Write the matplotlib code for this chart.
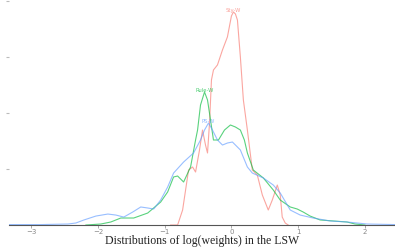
import matplotlib
matplotlib.use("Agg")
import matplotlib.pyplot as plt

# values (x = log weight, y = density)
sty_x = [-0.91, -0.806, -0.731, -0.642, -0.582, -0.537, -0.478, -0.433, -0.388, -0.358,
         -0.328, -0.299, -0.269, -0.209, -0.134, -0.060, 0.0, 0.030, 0.060, 0.090,
         0.134, 0.179, 0.239, 0.313, 0.388, 0.463, 0.552, 0.612, 0.687, 0.731,
         0.761, 0.806, 0.851]
sty_y = [0.0, 0.0, 0.134, 0.491, 0.518, 0.473, 0.67, 0.848, 0.714, 0.643,
         0.911, 1.295, 1.384, 1.429, 1.563, 1.679, 1.866, 1.902, 1.884, 1.830,
         1.5, 1.116, 0.848, 0.491, 0.446, 0.268, 0.134, 0.223, 0.357, 0.268,
         0.071, 0.018, 0.0]

rule_x = [-2.18, -1.955, -1.806, -1.657, -1.463, -1.254, -1.060, -0.955, -0.866, -0.806,
          -0.716, -0.612, -0.537, -0.507, -0.463, -0.403, -0.358, -0.313, -0.269, -0.194,
          -0.104, -0.015, 0.060, 0.134, 0.194, 0.239, 0.328, 0.478, 0.627, 0.731,
          0.881, 0.985, 1.075, 1.179, 1.328, 1.731, 1.851, 2.0]
rule_y = [0.0, 0.009, 0.027, 0.0625, 0.0625, 0.107, 0.205, 0.295, 0.429, 0.4375,
          0.384, 0.518, 0.759, 0.848, 1.071, 1.1875, 1.116, 0.9375, 0.759, 0.759,
          0.848, 0.893, 0.875, 0.848, 0.759, 0.643, 0.491, 0.420, 0.3125, 0.223,
          0.161, 0.143, 0.116, 0.080, 0.045, 0.027, 0.009, 0.0]

ps_x = [-3.33, -2.85, -2.448, -2.33, -2.209, -2.03, -1.851, -1.731, -1.612, -1.478,
        -1.358, -1.254, -1.164, -1.060, -0.955, -0.866, -0.716, -0.567, -0.463, -0.403,
        -0.343, -0.284, -0.209, -0.134, -0.060, 0.015, 0.134, 0.239, 0.313, 0.478,
        0.627, 0.731, 0.881, 1.030, 1.224, 1.478, 1.731, 2.03, 2.45]
ps_y = [0.004, 0.004, 0.009, 0.018, 0.045, 0.080, 0.098, 0.089, 0.071, 0.116,
        0.161, 0.152, 0.143, 0.223, 0.339, 0.464, 0.5625, 0.643, 0.759, 0.848,
        0.911, 0.848, 0.759, 0.714, 0.732, 0.741, 0.670, 0.518, 0.464, 0.420,
        0.357, 0.286, 0.134, 0.089, 0.0625, 0.036, 0.027, 0.009, 0.004]

series = [("Sty-W", sty_x, sty_y, "#F8766D"),
          ("Rule-W", rule_x, rule_y, "#00BA38"),
          ("PS-W", ps_x, ps_y, "#619CFF")]

fig = plt.figure(figsize=(3.95, 2.47), dpi=100, facecolor="w")
ax = fig.add_axes([0.023, 0.089, 0.977, 0.907])

for name, xs, ys, col in series:
    ax.plot(xs, ys, color=col, lw=0.8, alpha=0.65, solid_joinstyle="round")
    i = ys.index(max(ys))
    ax.text(xs[i], ys[i] - 0.01, name, color=col, alpha=0.7, fontsize=3.8,
            ha="center", va="bottom")

ax.set_xlim(-3.33, 2.45)
ax.set_ylim(0, 2.0)
ax.set_xticks([-3, -2, -1, 0, 1, 2])
ax.set_yticks([0.5, 1.0, 1.5, 2.0])
ax.set_yticklabels([])
ax.tick_params(axis="x", colors="#888888", labelsize=5, length=2, width=0.5, pad=1)
ax.tick_params(axis="y", colors="#bbbbbb", length=2, width=0.8)
for s in ["top", "right", "left"]:
    ax.spines[s].set_visible(False)
ax.spines["bottom"].set_color("#555555")
ax.spines["bottom"].set_linewidth(0.8)
ax.set_xlabel("Distributions of log(weights) in the LSW", family="Liberation Serif",
              fontsize=8.5, color="#222222", labelpad=0)

plt.savefig("out.png", dpi=100)
